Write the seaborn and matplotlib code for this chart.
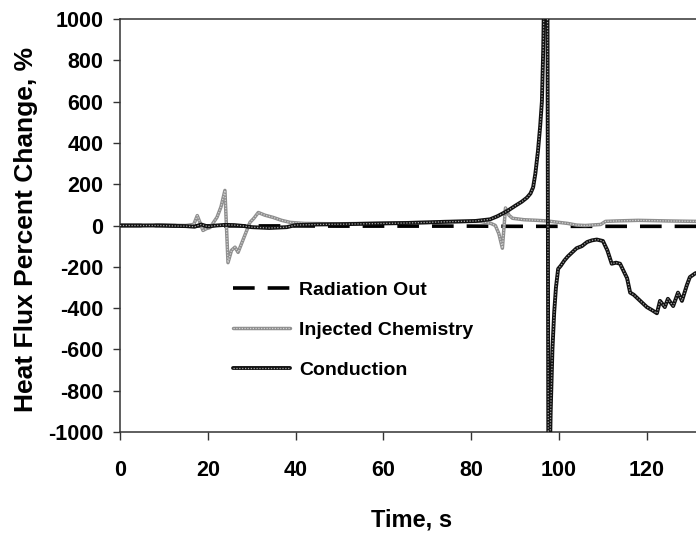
import matplotlib
matplotlib.use("Agg")
import matplotlib.pyplot as plt
import pandas as pd
import seaborn as sns
from matplotlib.legend_handler import HandlerTuple

# ---- data -------------------------------------------------------------
time_radiation = [0, 10, 20, 30, 40, 50, 60, 70, 80, 90, 100, 110, 120, 131.2]
radiation_out = [0, 0, -2, -2, -2, -3, -3, -3, -3, -4, -4, -4, -4, -4]

time_injected = [0, 5, 10, 15, 16.8, 17.6, 18.3, 18.9, 19.7, 20.5, 22.1, 23.0,
                 23.9, 24.6, 25.4, 26.2, 26.9, 28.2, 29.6, 30.5, 31.5, 33.0,
                 34.9, 36.8, 38.8, 42, 50, 60, 70, 78, 82, 84.5, 85.5, 86.3,
                 87.1, 87.8, 88.6, 89.4, 92, 95, 97.3, 100, 102, 104, 106,
                 108, 109.5, 110.6, 113, 118, 125, 131.2]
injected_chemistry = [0, 0, 2, 0, 5, 48, 10, -24, -15, -10, 40, 90,
                      170, -180, -120, -105, -130, -60, 15, 35, 63, 50,
                      39, 25, 15, 10, 8, 12, 15, 20, 20, 10, 0, -40,
                      -110, 85, 50, 35, 28, 25, 22, 15, 10, 2, 0,
                      3, 5, 20, 22, 25, 22, 20]

time_conduction = [0, 3, 6, 9, 12, 15, 17, 18.5, 20, 22, 24, 26, 28, 30, 32,
                   34, 36, 38, 40, 45, 50, 55, 60, 65, 70, 74, 78, 81, 84.3,
                   86, 88.2, 90, 91.5, 92.7, 93.5, 94.1, 94.6, 95.2, 95.7,
                   96.1, 96.4, 96.8, 97.2, 97.6, 98.1, 98.5, 98.9, 99.3, 99.8,
                   100.4, 101.2, 102, 103, 104, 105.2, 106.4, 107.5, 108.6,
                   110, 111, 112, 113, 113.9, 114.7, 115.5, 116.2, 117, 118,
                   119, 120, 121.2, 122.3, 123, 124.1, 124.8, 126, 127.1, 128,
                   129.1, 129.8, 131, 131.2]
conduction = [0, 0, 0, 0, -2, -3, -6, 5, -5, 0, 3, 2, -2, -8, -10,
              -12, -10, -8, 2, 5, 6, 8, 10, 12, 15, 18, 20, 22, 30,
              45, 70, 95, 115, 135, 155, 185, 250, 360, 480,
              600, 850, 1400, 3000, -1500, -900, -600, -420, -300, -210,
              -195, -170, -150, -130, -110, -100, -80, -72, -68,
              -75, -120, -185, -180, -185, -220, -255, -325, -335, -355,
              -375, -395, -410, -425, -365, -395, -355, -390, -325, -365,
              -290, -250, -232, -230]

y_ticks = [-1000, -800, -600, -400, -200, 0, 200, 400, 600, 800, 1000]
x_ticks = [0, 20, 40, 60, 80, 100, 120]

# ---- style ------------------------------------------------------------
sns.set_style("ticks")
plt.rcParams["font.family"] = ["Liberation Sans", "DejaVu Sans"]
plt.rcParams["font.weight"] = "bold"
plt.rcParams["text.color"] = "black"
plt.rcParams["axes.labelcolor"] = "black"
plt.rcParams["xtick.labelcolor"] = "black"
plt.rcParams["ytick.labelcolor"] = "black"

fig = plt.figure(figsize=(6.96, 5.35), dpi=100)
ax = fig.add_axes([0.1724, 0.1925, 0.8276, 0.772])

df_rad = pd.DataFrame({"t": time_radiation, "v": radiation_out})
df_inj = pd.DataFrame({"t": time_injected, "v": injected_chemistry})
df_con = pd.DataFrame({"t": time_conduction, "v": conduction})

# Radiation Out: heavy black dashes, drawn underneath
sns.lineplot(data=df_rad, x="t", y="v", ax=ax, color="black", lw=2.6,
             zorder=2, sort=False)
rad_line = ax.lines[-1]
rad_line.set_dashes((6, 3.6))

# Injected Chemistry: stippled grey
sns.lineplot(data=df_inj, x="t", y="v", ax=ax, color="#8e8e8e", lw=2.5,
             zorder=3, sort=False)
inj_base = ax.lines[-1]
sns.lineplot(data=df_inj, x="t", y="v", ax=ax, color="#d4d4d4", lw=0.9,
             zorder=3.1, sort=False)
inj_top = ax.lines[-1]
inj_top.set_dashes((1, 1.2))

# Conduction: black with light speckle
sns.lineplot(data=df_con, x="t", y="v", ax=ax, color="#111111", lw=2.8,
             zorder=4, sort=False)
con_base = ax.lines[-1]
sns.lineplot(data=df_con, x="t", y="v", ax=ax, color="#a8a8a8", lw=0.9,
             zorder=4.1, sort=False)
con_top = ax.lines[-1]
con_top.set_dashes((1, 1.3))

# ---- axes -------------------------------------------------------------
ax.set_xlim(0, 131.2)
ax.set_ylim(-1000, 1000)
ax.set_xticks(x_ticks)
ax.set_yticks(y_ticks)
ax.set_xticklabels([str(v) for v in x_ticks])
ax.set_yticklabels([str(v) for v in y_ticks])

for side in ("left", "bottom", "top"):
    ax.spines[side].set_color("#333333")
    ax.spines[side].set_linewidth(1.1)
ax.spines["right"].set_visible(False)

ax.tick_params(axis="y", direction="out", length=5, width=1.0,
               color="#333333", labelcolor="black", pad=7, labelsize=15.5)
ax.tick_params(axis="x", direction="out", length=5.5, width=1.0,
               color="#333333", labelcolor="black", pad=15, labelsize=15.5)
for lab in ax.get_xticklabels() + ax.get_yticklabels():
    lab.set_fontweight("bold")

ax.set_xlabel("Time, s", fontsize=17, fontweight="bold", color="black")
ax.set_ylabel("Heat Flux Percent Change, %", fontsize=19, fontweight="bold",
              color="black")
ax.xaxis.set_label_coords(0.507, -0.184)
ax.yaxis.set_label_coords(-0.142, 0.49)

# ---- legend -----------------------------------------------------------
handles = [rad_line, (inj_base, inj_top), (con_base, con_top)]
labels = ["Radiation Out", "Injected Chemistry", "Conduction"]
leg = ax.legend(handles, labels, loc="upper left",
                bbox_to_anchor=(0.196, 0.364), frameon=False,
                handlelength=2.95, handletextpad=0.45, labelspacing=1.15,
                borderpad=0, borderaxespad=0,
                handler_map={tuple: HandlerTuple(ndivide=1, pad=0)},
                prop={"family": ["Liberation Sans"], "weight": "bold",
                      "size": 14})
for txt in leg.get_texts():
    txt.set_color("black")

fig.savefig("out.png", dpi=100)
